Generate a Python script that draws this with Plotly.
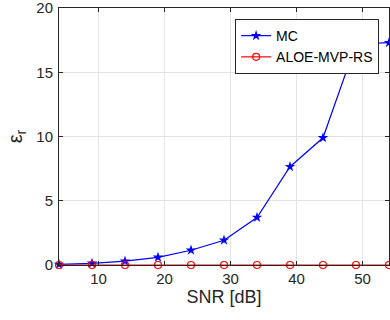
import plotly.graph_objects as go

snr = [4, 9, 14, 19, 24, 29, 34, 39, 44, 49, 54]
mc = [0.05, 0.13, 0.3, 0.6, 1.15, 1.93, 3.7, 7.65, 9.9, 17.2, 17.3]
aloe = [0.0, 0.0, 0.0, 0.0, 0.0, 0.0, 0.0, 0.0, 0.0, 0.0, 0.0]
x_ticks = [10, 20, 30, 40, 50]
y_ticks = [0, 5, 10, 15, 20]

FONT = "Liberation Sans, Arial, sans-serif"
AX = "#262626"

fig = go.Figure()
fig.add_trace(go.Scatter(
    x=snr, y=mc, name="MC", mode="lines+markers",
    line=dict(color="#0000FF", width=1.2),
    marker=dict(symbol="star", size=8, color="#0000FF"),
    cliponaxis=False,
))
fig.add_trace(go.Scatter(
    x=snr, y=aloe, name="ALOE-MVP-RS", mode="lines+markers",
    line=dict(color="#FF0000", width=1.2),
    marker=dict(symbol="circle-open", size=7, color="#FF0000", line=dict(width=1.2)),
    cliponaxis=False,
))

axis_common = dict(
    showline=True, linecolor=AX, linewidth=1, mirror="ticks",
    ticks="inside", ticklen=4, tickcolor=AX,
    showgrid=True, gridcolor="#E3E3E3", gridwidth=1,
    zeroline=False, ticklabeloverflow="allow",
    tickfont=dict(family=FONT, size=15, color=AX),
)

fig.update_xaxes(
    range=[4, 54], tickvals=x_ticks, ticklabelstandoff=0,
    title=dict(text="SNR [dB]", font=dict(family=FONT, size=18, color=AX), standoff=0),
    **axis_common,
)
fig.update_yaxes(
    range=[0, 20], tickvals=y_ticks, ticklabelstandoff=2,
    title=dict(text="ε<sub>r</sub>", font=dict(family=FONT, size=20, color=AX), standoff=8),
    **axis_common,
)

fig.update_layout(
    width=390, height=320,
    margin=dict(l=59, r=1, t=8, b=55, autoexpand=False),
    paper_bgcolor="white", plot_bgcolor="white",
    showlegend=True,
    legend=dict(
        x=0.97, y=0.957, xanchor="right", yanchor="top",
        bgcolor="white", bordercolor=AX, borderwidth=1,
        font=dict(family=FONT, size=14, color="black"),
        tracegroupgap=0, itemwidth=30,
    ),
)

fig.write_html("out.html")
